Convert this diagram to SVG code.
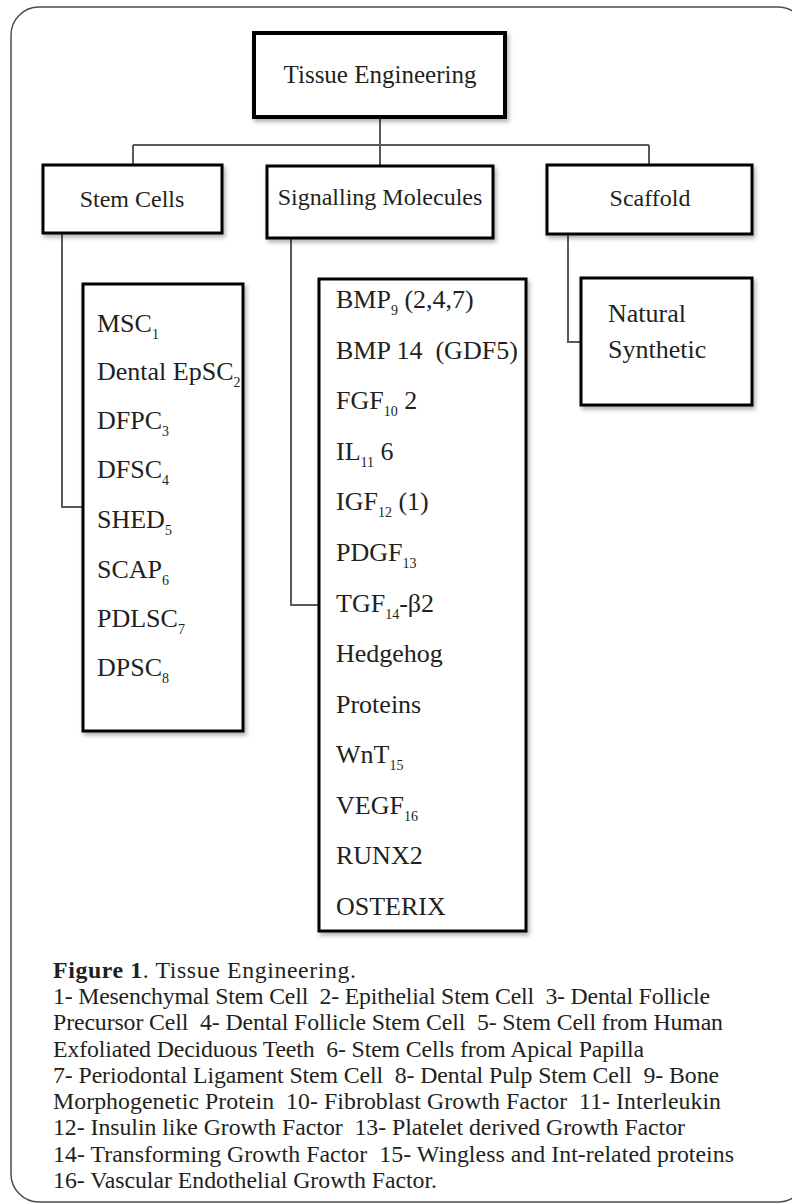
<svg xmlns="http://www.w3.org/2000/svg" width="792" height="1204" viewBox="0 0 792 1204">
<style>
text{font-family:"Liberation Serif","Times New Roman",serif;fill:#231f20}
.lbl{font-size:24px}
.item{font-size:26px}
.sub{font-size:14px}
.cap{font-size:23.8px}
.box{fill:#fff;stroke:#000;stroke-width:3;filter:url(#sh)}
.conn{fill:none;stroke:#595959;stroke-width:2}
</style>
<defs>
<filter id="sh" x="-10%" y="-10%" width="130%" height="130%">
<feDropShadow dx="2" dy="3" stdDeviation="2" flood-color="#000" flood-opacity="0.3"/>
</filter>
</defs>
<rect x="11" y="7" width="795" height="1195" rx="28" ry="28" fill="#fff" stroke="#4d4d4d" stroke-width="1.5"/>
<g id="connectors">
<path class="conn" d="M380,117 V145 M133,145 H649 M133,145 V165 M380,145 V166 M649,145 V165"/>
<path class="conn" d="M62,233 V507 H83"/>
<path class="conn" d="M291,238 V605 H319"/>
<path class="conn" d="M568,234 V342 H581"/>
</g>
<g id="tissue-engineering">
<rect class="box" x="254" y="33" width="251" height="84" style="stroke-width:4"/>
<text class="lbl" x="380" y="83" text-anchor="middle" style="font-size:25px">Tissue Engineering</text>
</g>
<g id="stem-cells">
<rect class="box" x="43" y="165" width="179" height="68"/>
<text class="lbl" x="132" y="207" text-anchor="middle">Stem Cells</text>
</g>
<g id="signalling-molecules">
<rect class="box" x="267" y="166" width="226" height="72"/>
<text class="lbl" x="380" y="205" text-anchor="middle">Signalling Molecules</text>
</g>
<g id="scaffold">
<rect class="box" x="547" y="165" width="205" height="69"/>
<text class="lbl" x="650" y="206" text-anchor="middle">Scaffold</text>
</g>
<g id="stem-cell-list">
<rect class="box" x="83" y="284" width="160" height="447"/>
<text class="item" x="97" y="332">MSC<tspan class="sub" dy="7">1</tspan></text>
<text class="item" x="97" y="380">Dental EpSC<tspan class="sub" dy="7">2</tspan></text>
<text class="item" x="97" y="429">DFPC<tspan class="sub" dy="7">3</tspan></text>
<text class="item" x="97" y="478">DFSC<tspan class="sub" dy="7">4</tspan></text>
<text class="item" x="97" y="528">SHED<tspan class="sub" dy="7">5</tspan></text>
<text class="item" x="97" y="578">SCAP<tspan class="sub" dy="7">6</tspan></text>
<text class="item" x="97" y="627">PDLSC<tspan class="sub" dy="7">7</tspan></text>
<text class="item" x="97" y="676">DPSC<tspan class="sub" dy="7">8</tspan></text>
</g>
<g id="signalling-list">
<rect class="box" x="319" y="279" width="207" height="652"/>
<text class="item" x="336" y="308" xml:space="preserve">BMP<tspan class="sub" dy="7">9</tspan><tspan dy="-7"> (2,4,7)</tspan></text>
<text class="item" x="336" y="359" xml:space="preserve">BMP 14  (GDF5)</text>
<text class="item" x="336" y="409" xml:space="preserve">FGF<tspan class="sub" dy="7">10</tspan><tspan dy="-7"> 2</tspan></text>
<text class="item" x="336" y="460" xml:space="preserve">IL<tspan class="sub" dy="7">11</tspan><tspan dy="-7"> 6</tspan></text>
<text class="item" x="336" y="510" xml:space="preserve">IGF<tspan class="sub" dy="7">12</tspan><tspan dy="-7"> (1)</tspan></text>
<text class="item" x="336" y="561">PDGF<tspan class="sub" dy="7">13</tspan></text>
<text class="item" x="336" y="612">TGF<tspan class="sub" dy="7">14</tspan><tspan dy="-7">-β2</tspan></text>
<text class="item" x="336" y="662">Hedgehog</text>
<text class="item" x="336" y="713">Proteins</text>
<text class="item" x="336" y="763">WnT<tspan class="sub" dy="7">15</tspan></text>
<text class="item" x="336" y="814">VEGF<tspan class="sub" dy="7">16</tspan></text>
<text class="item" x="336" y="864">RUNX2</text>
<text class="item" x="336" y="915">OSTERIX</text>
</g>
<g id="scaffold-list">
<rect class="box" x="581" y="278" width="171" height="127"/>
<text class="item" x="608" y="322">Natural</text>
<text class="item" x="608" y="358">Synthetic</text>
</g>
<g id="caption">
<text class="cap" x="53" y="978" textLength="303" xml:space="preserve"><tspan font-weight="bold">Figure 1</tspan>. Tissue Engineering.</text>
<text class="cap" x="53" y="1004" textLength="657" xml:space="preserve">1- Mesenchymal Stem Cell  2- Epithelial Stem Cell  3- Dental Follicle</text>
<text class="cap" x="53" y="1030" textLength="670" xml:space="preserve">Precursor Cell  4- Dental Follicle Stem Cell  5- Stem Cell from Human</text>
<text class="cap" x="53" y="1057" textLength="591" xml:space="preserve">Exfoliated Deciduous Teeth  6- Stem Cells from Apical Papilla</text>
<text class="cap" x="53" y="1083" textLength="666" xml:space="preserve">7- Periodontal Ligament Stem Cell  8- Dental Pulp Stem Cell  9- Bone</text>
<text class="cap" x="53" y="1109" textLength="668" xml:space="preserve">Morphogenetic Protein  10- Fibroblast Growth Factor  11- Interleukin</text>
<text class="cap" x="53" y="1135" textLength="632" xml:space="preserve">12- Insulin like Growth Factor  13- Platelet derived Growth Factor</text>
<text class="cap" x="53" y="1162" textLength="681" xml:space="preserve">14- Transforming Growth Factor  15- Wingless and Int-related proteins</text>
<text class="cap" x="53" y="1188" textLength="384" xml:space="preserve">16- Vascular Endothelial Growth Factor.</text>
</g>
</svg>
